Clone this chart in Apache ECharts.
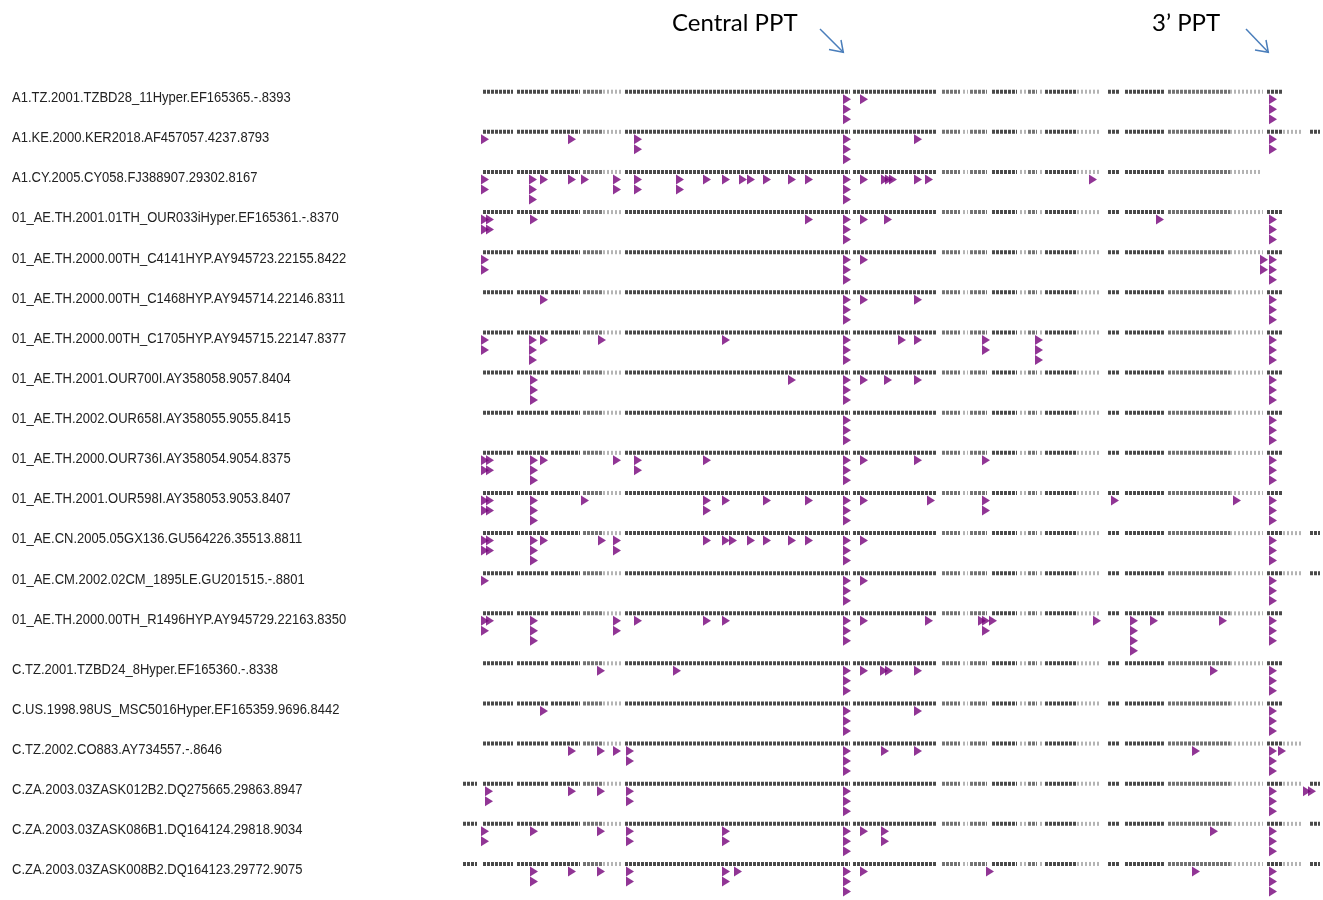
<!DOCTYPE html>
<html>
<head>
<meta charset="utf-8">
<script src="https://cdn.jsdelivr.net/npm/echarts@6/dist/echarts.min.js"></script>
<style>
html,body{margin:0;padding:0;background:#fff;}
#chart{width:1323px;height:900px;}
</style>
</head>
<body>
<div id="chart"></div>
<script>
// ---------- DATA ----------
const sequenceNames = [
  "A1.TZ.2001.TZBD28_11Hyper.EF165365.-.8393",
  "A1.KE.2000.KER2018.AF457057.4237.8793",
  "A1.CY.2005.CY058.FJ388907.29302.8167",
  "01_AE.TH.2001.01TH_OUR033iHyper.EF165361.-.8370",
  "01_AE.TH.2000.00TH_C4141HYP.AY945723.22155.8422",
  "01_AE.TH.2000.00TH_C1468HYP.AY945714.22146.8311",
  "01_AE.TH.2000.00TH_C1705HYP.AY945715.22147.8377",
  "01_AE.TH.2001.OUR700I.AY358058.9057.8404",
  "01_AE.TH.2002.OUR658I.AY358055.9055.8415",
  "01_AE.TH.2000.OUR736I.AY358054.9054.8375",
  "01_AE.TH.2001.OUR598I.AY358053.9053.8407",
  "01_AE.CN.2005.05GX136.GU564226.35513.8811",
  "01_AE.CM.2002.02CM_1895LE.GU201515.-.8801",
  "01_AE.TH.2000.00TH_R1496HYP.AY945729.22163.8350",
  "C.TZ.2001.TZBD24_8Hyper.EF165360.-.8338",
  "C.US.1998.98US_MSC5016Hyper.EF165359.9696.8442",
  "C.TZ.2002.CO883.AY734557.-.8646",
  "C.ZA.2003.03ZASK012B2.DQ275665.29863.8947",
  "C.ZA.2003.03ZASK086B1.DQ164124.29818.9034",
  "C.ZA.2003.03ZASK008B2.DQ164123.29772.9075"
];

// alignment extent of each sequence (alignment column units)
const seqStart = [23,23,23,23,23,23,23,23,23,23,23,21,23,23,23,23,23,3,3,3];
const seqEnd   = [823,860,800,823,823,823,823,823,823,823,823,860,860,823,823,823,842,860,860,860];

// shared alignment block structure: [from, to, coverage class 0=dense 1=medium 2=sparse]
const alignmentBlocks = [
  [3,17,0],[23,53,0],[57,88,0],[91,120,0],[123,142,1],[143,163,2],[165,390,0],
  [393,477,0],[482,500,1],[503,508,2],[510,527,1],[532,557,0],[560,567,2],
  [568,577,1],[580,584,2],[585,617,0],[617,640,2],[648,660,0],[665,705,0],
  [708,770,1],[770,803,2],[807,823,0],[823,842,2],[850,860,0]
];

// APOBEC G->A hypermutation sites per sequence: [alignment column, number of stacked marks]
const mutations = [
  [[387,3],[404,1],[813,3]],
  [[25,1],[112,1],[178,2],[387,3],[458,1],[813,2]],
  [[25,2],[73,3],[84,1],[112,1],[125,1],[157,2],[178,2],[220,2],[247,1],[266,1],[283,1],[291,1],[307,1],[332,1],[349,1],[387,3],[404,1],[425,1],[429,1],[433,1],[458,1],[469,1],[633,1]],
  [[25,2],[30,2],[74,1],[349,1],[387,3],[404,1],[428,1],[700,1],[813,3]],
  [[25,2],[387,3],[404,1],[804,2],[813,3]],
  [[84,1],[387,3],[404,1],[458,1],[813,3]],
  [[25,2],[73,3],[84,1],[142,1],[266,1],[387,3],[442,1],[458,1],[526,2],[579,3],[813,3]],
  [[74,3],[332,1],[387,3],[404,1],[428,1],[458,1],[813,3]],
  [[387,3],[813,3]],
  [[25,2],[30,2],[74,3],[84,1],[157,1],[178,2],[247,1],[387,3],[404,1],[458,1],[526,1],[813,3]],
  [[25,2],[30,2],[74,3],[125,1],[247,2],[266,1],[307,1],[349,1],[387,3],[404,1],[471,1],[526,2],[655,1],[777,1],[813,3]],
  [[25,2],[30,2],[74,3],[84,1],[142,1],[157,2],[247,1],[266,1],[273,1],[291,1],[307,1],[332,1],[349,1],[387,3],[404,1],[813,3]],
  [[25,1],[387,3],[404,1],[813,3]],
  [[25,2],[30,1],[74,3],[157,2],[178,1],[247,1],[266,1],[387,3],[404,1],[469,1],[522,1],[526,2],[533,1],[637,1],[674,4],[694,1],[763,1],[813,3]],
  [[141,1],[217,1],[387,3],[404,1],[424,1],[429,1],[458,1],[754,1],[813,3]],
  [[84,1],[387,3],[458,1],[813,3]],
  [[112,1],[141,1],[157,1],[170,2],[387,3],[425,1],[458,1],[736,1],[813,3],[822,1]],
  [[29,2],[112,1],[141,1],[170,2],[387,3],[813,3],[847,1],[852,1]],
  [[25,2],[74,1],[141,1],[170,2],[266,2],[387,3],[404,1],[425,2],[754,1],[813,3]],
  [[74,2],[112,1],[141,1],[170,2],[266,2],[278,1],[387,3],[404,1],[530,1],[736,1],[813,3]]
];

const annotationTexts = ["Central PPT", "3\u2019 PPT"];

// ---------- BUILD ----------
// vertical track of each sequence (extra spacing before the subtype C group)
function trackOf(i){ return i + (i >= 14 ? 0.245 : 0); }
const MARK_OFFSET = 0.187, MARK_STEP = 0.249, LABEL_OFFSET = 0.157;

const segData = [];
sequenceNames.forEach((n, i) => {
  alignmentBlocks.forEach(b => {
    const a = Math.max(b[0], seqStart[i]);
    const e = Math.min(b[1], seqEnd[i]);
    if (e > a) segData.push([a, e, trackOf(i), b[2]]);
  });
});

const markData = [];
mutations.forEach((row, i) => {
  row.forEach(([pos, cnt]) => {
    for (let l = 0; l < cnt; l++) markData.push([pos, trackOf(i) + MARK_OFFSET + MARK_STEP * l]);
  });
});

const labelData = sequenceNames.map((n, i) => [0, trackOf(i) + LABEL_OFFSET, n]);

const shadeStyle = [
  {stroke:'#4a4a4a', dash:[3,1]},
  {stroke:'#737373', dash:[3,1]},
  {stroke:'#b4b4b4', dash:[2,2]}
];

const chart = echarts.init(document.getElementById('chart'), null, {renderer:'canvas'});
const arrowColor = '#4a7ebb';
chart.setOption({
  backgroundColor:'#ffffff',
  animation:false,
  grid:{left:460, right:3, top:51.57, bottom:5.73, containLabel:false},
  xAxis:{type:'value', min:0, max:860, show:false},
  yAxis:{type:'value', min:-1, max:20, inverse:true, show:false},
  series:[
    {
      type:'custom',
      clip:false,
      data:segData,
      encode:{x:[0,1], y:2},
      renderItem:function(params, api){
        const p1 = api.coord([api.value(0), api.value(2)]);
        const p2 = api.coord([api.value(1), api.value(2)]);
        const s = shadeStyle[api.value(3)];
        return {type:'line', shape:{x1:p1[0], y1:p1[1], x2:p2[0], y2:p2[1]},
          style:{stroke:s.stroke, lineWidth:4, lineDash:s.dash, fill:null}};
      }
    },
    {
      type:'scatter',
      data:markData,
      symbol:'triangle',
      symbolRotate:-90,
      symbolSize:[10,8],
      itemStyle:{color:'#76027a'},
      clip:false
    },
    {
      type:'custom',
      clip:false,
      data:labelData,
      encode:{x:0, y:1},
      renderItem:function(params, api){
        const p = api.coord([0, api.value(1)]);
        return {type:'text', x:12, y:p[1], scaleY:1.12, originY:0,
          style:{text:labelData[params.dataIndex][2], fontSize:13,
            fontFamily:'"Liberation Sans", Arial, sans-serif', fill:'#222',
            verticalAlign:'middle', align:'left'}};
      }
    }
  ],
  graphic:[
    {type:'text', x:672, y:23.5, style:{text:annotationTexts[0], font:'24px Lato, "Open Sans", sans-serif', fill:'#000', verticalAlign:'middle'}},
    {type:'text', x:1152, y:23.5, style:{text:annotationTexts[1], font:'24px Lato, "Open Sans", sans-serif', fill:'#000', verticalAlign:'middle'}},
    {type:'polyline', shape:{points:[[820,29],[843.3,52.3]]}, style:{stroke:arrowColor, lineWidth:1.5, fill:null}},
    {type:'polyline', shape:{points:[[841,40],[843.3,52.3],[829,49.5]]}, style:{stroke:arrowColor, lineWidth:1.5, fill:null}},
    {type:'polyline', shape:{points:[[1246,29],[1268.3,52.3]]}, style:{stroke:arrowColor, lineWidth:1.5, fill:null}},
    {type:'polyline', shape:{points:[[1266,40],[1268.3,52.3],[1255,50]]}, style:{stroke:arrowColor, lineWidth:1.5, fill:null}}
  ]
});
</script>
</body>
</html>
